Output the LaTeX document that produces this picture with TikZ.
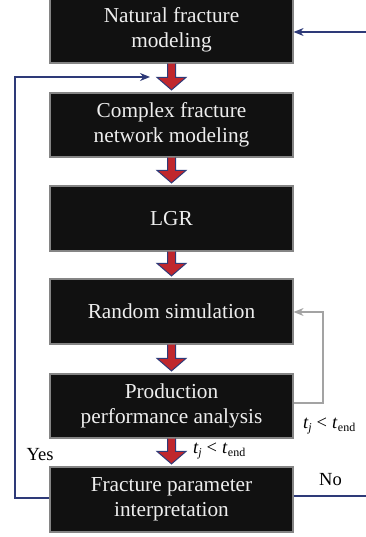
\documentclass[tikz,border=0pt]{standalone}
\usepackage{fontspec}
\setmainfont{Liberation Serif}
\usetikzlibrary{arrows.meta,calc}
\definecolor{boxfill}{HTML}{111111}
\definecolor{boxedge}{HTML}{858585}
\definecolor{boxtext}{HTML}{EEEEEE}
\definecolor{arrowred}{HTML}{C0272D}
\definecolor{navy}{HTML}{2E3A78}
\definecolor{loopgray}{HTML}{A3A3A3}
\tikzset{
  stagebox/.style={draw=boxedge, line width=1.2pt, fill=boxfill, text=boxtext,
    minimum width=243pt, minimum height=64pt, align=center, inner sep=0pt,
    font=\fontsize{21.3}{24.5}\selectfont},
  flowarrow/.style={fill=arrowred, draw=navy, line width=1pt, line join=miter},
  navyline/.style={draw=navy, line width=1.3pt, -{Stealth[length=10pt,width=8pt]}},
  navyplain/.style={draw=navy, line width=1.3pt},
  grayline/.style={draw=loopgray, line width=1.3pt, -{Stealth[length=10pt,width=8pt]}},
  lbl/.style={inner sep=0pt, font=\fontsize{18.5}{20}\selectfont}
}
% block arrow from the bottom of one stage to the top of the next
\newcommand\stagearrow[2]{%
  \path[flowarrow]
    ($(#1.south)+(-4,0)$) -- ($(#2.north)+(-4,-15)$) -- ($(#2.north)+(-14.5,-15)$)
    -- ($(#2.north)+(0,-2.5)$) -- ($(#2.north)+(14.5,-15)$) -- ($(#2.north)+(4,-15)$)
    -- ($(#1.south)+(4,0)$);}
% condition label t_j < t_end
\newcommand\tcond{\textit{t}\kern-0.4pt\raisebox{-0.42ex}{\fontsize{12}{12}\selectfont\textit{j}}\kern5pt<\kern5pt\textit{t}\kern0.4pt\raisebox{-0.38ex}{\fontsize{12}{12}\selectfont end}}
\begin{document}
\begin{tikzpicture}[x=1pt,y=-1pt]
  \useasboundingbox (0,0) rectangle (366,537);

  \node[stagebox, minimum height=66pt] (s1) at (171.5,30) {Natural fracture\\modeling};
  \node[stagebox] (s2) at (171.5,125) {Complex fracture\\network modeling};
  \node[stagebox, minimum height=65pt] (s3) at (171.5,218.5) {LGR};
  \node[stagebox, minimum height=65pt] (s4) at (171.5,311.5) {Random simulation};
  \node[stagebox] (s5) at (171.5,406) {Production\\performance analysis};
  \node[stagebox, minimum height=65pt] (s6) at (171.5,499.5) {Fracture parameter\\interpretation};

  \stagearrow{s1}{s2}
  \stagearrow{s2}{s3}
  \stagearrow{s3}{s4}
  \stagearrow{s4}{s5}
  \stagearrow{s5}{s6}

  % "Yes" loop back to the start of fracture network modeling
  \coordinate (yesend) at (150,77);
  \coordinate (yescorner) at (15,77);
  \draw[navyline] ([yshift=1.5pt]s6.west) -| (yescorner) -- (yesend);

  % "No" branch back to natural fracture modeling
  \coordinate (noedge) at (366,496);
  \coordinate (topedge) at (366,32);
  \draw[navyplain] ([yshift=3.5pt]s6.east) -- (noedge);
  \draw[navyline] (topedge) -- ([yshift=-2pt]s1.east);

  % time-step loop
  \coordinate (loopcorner) at (323,312);
  \draw[grayline] ([yshift=3pt]s5.east) -| (loopcorner) -- ([yshift=-0.5pt]s4.east);

  \node[lbl, anchor=base] (yes) at (40,460) {Yes};
  \node[lbl, anchor=base] (no) at (330.5,485) {No};
  \node[lbl, anchor=base west] (cond1) at (193,453) {\tcond};
  \node[lbl, anchor=base west] (cond2) at (303,428) {\tcond};
\end{tikzpicture}
\end{document}
